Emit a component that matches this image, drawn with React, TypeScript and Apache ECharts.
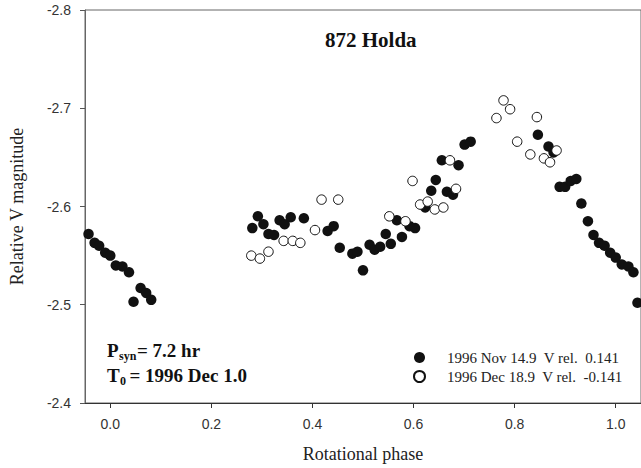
import React, { useEffect, useRef } from "react";
import * as echarts from "echarts";

const xTicks = [0.0, 0.2, 0.4, 0.6, 0.8, 1.0];
const yTicks = [-2.8, -2.7, -2.6, -2.5, -2.4];

const novName = "1996 Nov 14.9  V rel.  0.141";
const decName = "1996 Dec 18.9  V rel.  -0.141";

const novPhase = [
  -0.043, -0.031, -0.022, -0.01, 0.0, 0.011, 0.024, 0.037, 0.046, 0.06, 0.071, 0.081,
  0.281, 0.292, 0.303, 0.313, 0.324, 0.335, 0.345, 0.357, 0.383, 0.43, 0.442, 0.454,
  0.479, 0.489, 0.5, 0.513, 0.523, 0.534, 0.545, 0.555, 0.567, 0.577, 0.592, 0.603,
  0.623, 0.635, 0.644, 0.656, 0.666, 0.678, 0.689, 0.701, 0.713,
  0.846, 0.867, 0.877, 0.889, 0.9, 0.911, 0.922, 0.932, 0.945, 0.956, 0.967, 0.978,
  0.989, 1.0, 1.012, 1.025, 1.035, 1.043,
];
const novMag = [
  -2.572, -2.563, -2.56, -2.553, -2.55, -2.54, -2.539, -2.533, -2.503, -2.517, -2.512, -2.505,
  -2.578, -2.59, -2.582, -2.572, -2.571, -2.586, -2.582, -2.589, -2.588, -2.575, -2.58, -2.558,
  -2.552, -2.554, -2.535, -2.561, -2.556, -2.559, -2.572, -2.562, -2.586, -2.569, -2.58, -2.578,
  -2.599, -2.616, -2.627, -2.647, -2.615, -2.612, -2.642, -2.663, -2.666,
  -2.673, -2.661, -2.655, -2.62, -2.62, -2.626, -2.628, -2.603, -2.585, -2.571, -2.563, -2.56,
  -2.553, -2.548, -2.541, -2.539, -2.533, -2.502,
];

const decPhase = [
  0.279, 0.296, 0.313, 0.343, 0.361, 0.376, 0.405, 0.418, 0.451, 0.552, 0.584, 0.598,
  0.613, 0.628, 0.642, 0.659, 0.672, 0.684, 0.764, 0.778, 0.791, 0.805, 0.831, 0.844,
  0.858, 0.87, 0.883,
];
const decMag = [
  -2.55, -2.547, -2.554, -2.565, -2.565, -2.563, -2.576, -2.607, -2.607, -2.59, -2.585, -2.626,
  -2.602, -2.605, -2.597, -2.599, -2.647, -2.618, -2.69, -2.708, -2.699, -2.666, -2.653, -2.691,
  -2.649, -2.645, -2.657,
];

const SERIF = "Liberation Serif, Times New Roman, serif";
const SANS = "Liberation Sans, Arial, sans-serif";

export default function App() {
  const ref = useRef<HTMLDivElement>(null);

  useEffect(() => {
    document.body.style.margin = "0";
    if (!ref.current) return;
    const chart = echarts.init(ref.current, undefined, { renderer: "svg" });

    const novData = novPhase.map((x, i) => [x, novMag[i]]);
    const decData = decPhase.map((x, i) => [x, decMag[i]]);

    chart.setOption({
      animation: false,
      backgroundColor: "#ffffff",
      title: {
        text: "872 Holda",
        left: 325,
        top: 29,
        padding: 0,
        textStyle: { fontFamily: SERIF, fontWeight: "bold", fontSize: 21, color: "#111" },
      },
      legend: {
        orient: "vertical",
        left: 413,
        top: 350,
        padding: 0,
        itemWidth: 11,
        itemHeight: 11,
        itemGap: 4,
        icon: "circle",
        selectedMode: false,
        textStyle: {
          fontFamily: SERIF,
          fontSize: 15,
          lineHeight: 15,
          color: "#222",
          padding: [0, 0, 0, 17],
        },
        data: [novName, decName],
      },
      grid: {
        left: 81,
        top: 10,
        right: -4,
        bottom: 64,
        show: true,
        borderColor: "#666",
        borderWidth: 1,
      },
      xAxis: {
        type: "value",
        min: -0.05,
        max: 1.05,
        name: "Rotational phase",
        nameLocation: "middle",
        nameGap: 42,
        nameTextStyle: { fontFamily: SERIF, fontSize: 18, color: "#222" },
        axisLine: { show: true, onZero: false, lineStyle: { color: "#333", width: 1 } },
        axisTick: { show: true, length: 5, lineStyle: { color: "#333" }, customValues: xTicks },
        axisLabel: {
          customValues: xTicks,
          margin: 14,
          fontFamily: SANS,
          fontSize: 14,
          color: "#333",
          formatter: (v: number) => v.toFixed(1),
        },
        splitLine: { show: false },
      },
      yAxis: {
        type: "value",
        min: -2.8,
        max: -2.4,
        inverse: true,
        name: "Relative V magnitude",
        nameLocation: "middle",
        nameGap: 59,
        nameTextStyle: { fontFamily: SERIF, fontSize: 18, color: "#222" },
        axisLine: { show: true, onZero: false, lineStyle: { color: "#666", width: 1 } },
        axisTick: { show: true, length: 5, lineStyle: { color: "#555" }, customValues: yTicks },
        axisLabel: {
          customValues: yTicks,
          margin: 14,
          fontFamily: SANS,
          fontSize: 14,
          color: "#333",
          formatter: (v: number) => v.toFixed(1),
        },
        splitLine: { show: false },
      },
      graphic: [
        { type: "text", x: 107, y: 350.5, style: { text: "P", fontFamily: SERIF, fontWeight: "bold", fontSize: 19, fill: "#111", verticalAlign: "middle" } },
        { type: "text", x: 119, y: 356, style: { text: "syn", fontFamily: SERIF, fontWeight: "bold", fontSize: 12, fill: "#111", verticalAlign: "middle" } },
        { type: "text", x: 137, y: 350.5, style: { text: "= 7.2 hr", fontFamily: SERIF, fontWeight: "bold", fontSize: 19, fill: "#111", verticalAlign: "middle" } },
        { type: "text", x: 107, y: 375.2, style: { text: "T", fontFamily: SERIF, fontWeight: "bold", fontSize: 19, fill: "#111", verticalAlign: "middle" } },
        { type: "text", x: 120, y: 381, style: { text: "0", fontFamily: SERIF, fontWeight: "bold", fontSize: 12, fill: "#111", verticalAlign: "middle" } },
        { type: "text", x: 129.5, y: 375.2, style: { text: "= 1996 Dec 1.0", fontFamily: SERIF, fontWeight: "bold", fontSize: 19, fill: "#111", verticalAlign: "middle" } },
      ],
      series: [
        {
          name: novName,
          type: "scatter",
          data: novData,
          symbol: "circle",
          symbolSize: 10.5,
          itemStyle: { color: "#111", borderColor: "#111", borderWidth: 0, opacity: 1 },
          emphasis: { disabled: true },
        },
        {
          name: decName,
          type: "scatter",
          data: decData,
          symbol: "circle",
          symbolSize: 9.5,
          itemStyle: { color: "#ffffff", borderColor: "#111", borderWidth: 1, opacity: 1 },
          emphasis: { disabled: true },
        },
      ],
    });

    return () => chart.dispose();
  }, []);

  return (
    <div
      ref={ref}
      style={{ position: "absolute", left: 0, top: 0, width: 641, height: 468 }}
    />
  );
}
